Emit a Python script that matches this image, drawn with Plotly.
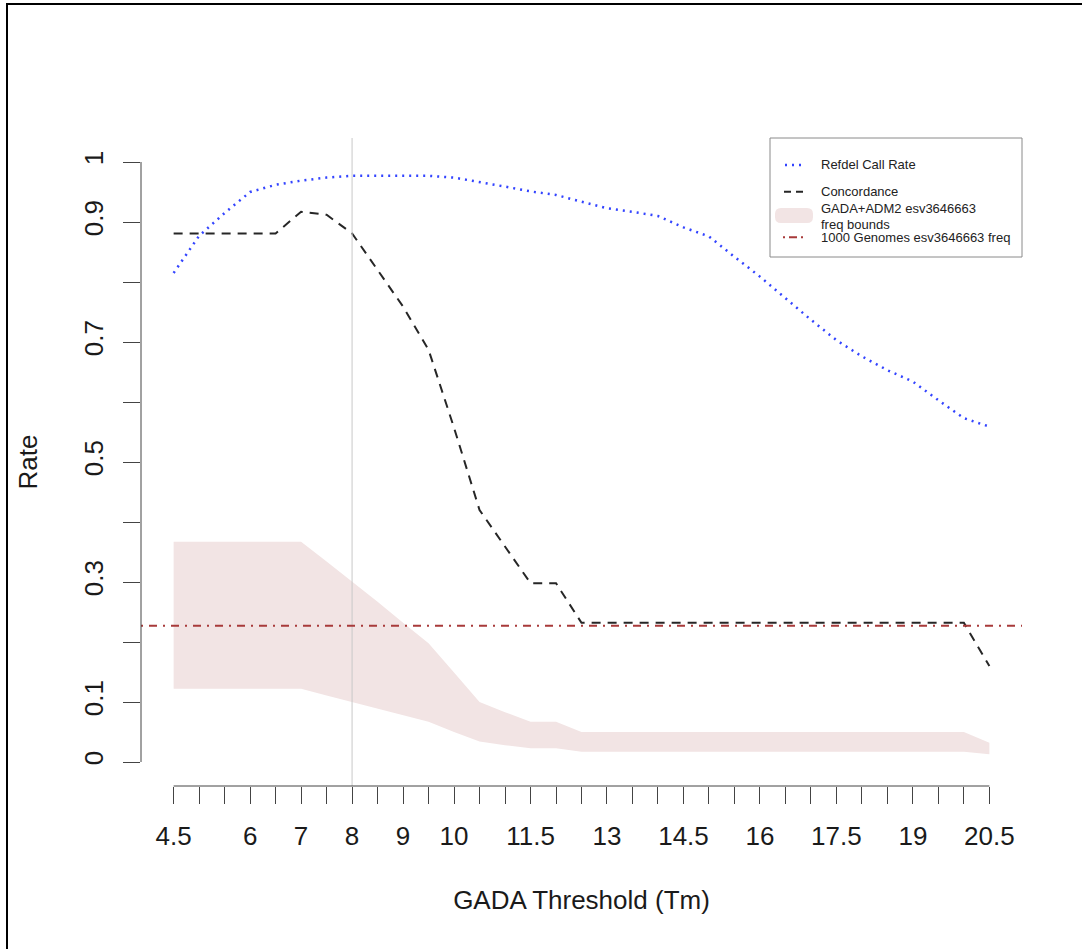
import plotly.graph_objects as go

# ---------------- data ----------------
thresholds = [4.5, 5.0, 5.5, 6.0, 6.5, 7.0, 7.5, 8.0, 8.5, 9.0, 9.5, 10.0, 10.5,
              11.0, 11.5, 12.0, 12.5, 13.0, 13.5, 14.0, 14.5, 15.0, 15.5, 16.0,
              16.5, 17.0, 17.5, 18.0, 18.5, 19.0, 19.5, 20.0, 20.5]

refdel_call_rate = [0.815, 0.877, 0.915, 0.950, 0.962, 0.969, 0.974, 0.977, 0.977,
                    0.977, 0.977, 0.974, 0.967, 0.959, 0.951, 0.945, 0.934, 0.923,
                    0.917, 0.910, 0.891, 0.876, 0.842, 0.809, 0.773, 0.737, 0.703,
                    0.676, 0.653, 0.634, 0.603, 0.573, 0.559]

concordance = [0.881, 0.881, 0.881, 0.881, 0.881, 0.917, 0.912, 0.881, 0.820,
               0.759, 0.687, 0.557, 0.420, 0.359, 0.298, 0.298, 0.232, 0.232,
               0.232, 0.232, 0.232, 0.232, 0.232, 0.232, 0.232, 0.232, 0.232,
               0.232, 0.232, 0.232, 0.232, 0.232, 0.160]

freq_upper = [0.367, 0.367, 0.367, 0.367, 0.367, 0.367, 0.334, 0.301, 0.267,
              0.232, 0.198, 0.149, 0.100, 0.083, 0.067, 0.067, 0.050, 0.050,
              0.050, 0.050, 0.050, 0.050, 0.050, 0.050, 0.050, 0.050, 0.050,
              0.050, 0.050, 0.050, 0.050, 0.050, 0.032]

freq_lower = [0.122, 0.122, 0.122, 0.122, 0.122, 0.122, 0.111, 0.100, 0.089,
              0.078, 0.067, 0.050, 0.034, 0.028, 0.023, 0.023, 0.017, 0.017,
              0.017, 0.017, 0.017, 0.017, 0.017, 0.017, 0.017, 0.017, 0.017,
              0.017, 0.017, 0.017, 0.017, 0.017, 0.013]

kg_freq = 0.227          # 1000 Genomes esv3646663 freq
chosen_threshold = 8.0

x_tick_vals = thresholds
x_tick_text = ["4.5", "", "", "6", "", "7", "", "8", "", "9", "", "10", "",
               "", "11.5", "", "", "13", "", "", "14.5", "", "", "16", "",
               "", "17.5", "", "", "19", "", "", "20.5"]
y_tick_vals = [0.0, 0.1, 0.2, 0.3, 0.4, 0.5, 0.6, 0.7, 0.8, 0.9, 1.0]
y_tick_text = ["0", "0.1", "", "0.3", "", "0.5", "", "0.7", "", "0.9", "1"]

legend_lines = ["Refdel Call Rate", "Concordance", "GADA+ADM2 esv3646663",
                "freq bounds", "1000 Genomes esv3646663 freq"]

# ---------------- styles ----------------
W, H = 1082, 949
ML, MR, MT, MB = 141, 60, 138, 163
PW, PH = W - ML - MR, H - MT - MB
FONT = "Liberation Sans, Arial, Helvetica, sans-serif"
BLUE = "#3344ff"
BLACK = "#262626"
RED = "#a83a3a"
PINK = "#f2e4e4"
AXC = "#444444"


def px(p):
    return (p - ML) / PW


def py(p):
    return (H - MB - p) / PH


fig = go.Figure()

fig.add_trace(go.Scatter(x=thresholds, y=freq_lower, mode="lines",
                         line=dict(width=0, color=PINK), showlegend=False,
                         hoverinfo="skip"))
fig.add_trace(go.Scatter(x=thresholds, y=freq_upper, mode="lines",
                         line=dict(width=0, color=PINK), fill="tonexty",
                         fillcolor=PINK, name="GADA+ADM2 esv3646663 freq bounds",
                         showlegend=False))
fig.add_trace(go.Scatter(x=thresholds, y=refdel_call_rate, mode="lines",
                         line=dict(color=BLUE, width=2.5, dash="2px,5px"),
                         name="Refdel Call Rate", showlegend=False))
fig.add_trace(go.Scatter(x=thresholds, y=concordance, mode="lines",
                         line=dict(color=BLACK, width=2, dash="9px,7px"),
                         name="Concordance", showlegend=False))

shapes = []
# vertical reference line at chosen threshold
shapes.append(dict(type="line", xref="x", yref="paper", x0=chosen_threshold,
                   x1=chosen_threshold, y0=0, y1=1,
                   line=dict(color="#c8c8c8", width=1)))
# 1000 Genomes frequency line
shapes.append(dict(type="line", xref="paper", yref="y", x0=0, x1=1,
                   y0=kg_freq, y1=kg_freq,
                   line=dict(color=RED, width=2, dash="2px,6px,8px,6px")))
# R-style axis lines spanning the tick range
shapes.append(dict(type="line", xref="x", yref="paper", x0=thresholds[0],
                   x1=thresholds[-1], y0=0, y1=0, line=dict(color=AXC, width=1)))
shapes.append(dict(type="line", xref="paper", yref="y", x0=0, x1=0,
                   y0=y_tick_vals[0], y1=y_tick_vals[-1],
                   line=dict(color=AXC, width=1)))

# legend box (R style)
LX0, LX1, LY0, LY1 = 770, 1022, 138, 257
shapes.append(dict(type="rect", xref="paper", yref="paper",
                   x0=px(LX0), x1=px(LX1), y0=py(LY1), y1=py(LY0),
                   line=dict(color="#8a8a8a", width=1), fillcolor="white"))
sx0, sx1 = 785, 805
row_y = [165, 191.7, 215, 237.3]
shapes.append(dict(type="line", xref="paper", yref="paper", x0=px(sx0), x1=px(sx1),
                   y0=py(row_y[0]), y1=py(row_y[0]),
                   line=dict(color=BLUE, width=2.5, dash="2px,5px")))
shapes.append(dict(type="line", xref="paper", yref="paper", x0=px(sx0 - 1), x1=px(sx1 + 1),
                   y0=py(row_y[1]), y1=py(row_y[1]),
                   line=dict(color=BLACK, width=2, dash="7px,5px")))
# rounded swatch
rx0, rx1, ry0, ry1, r = 775, 813, 208, 223, 6
path = (f"M {px(rx0 + r)},{py(ry0)} L {px(rx1 - r)},{py(ry0)} "
        f"Q {px(rx1)},{py(ry0)} {px(rx1)},{py(ry0 + r)} "
        f"L {px(rx1)},{py(ry1 - r)} Q {px(rx1)},{py(ry1)} {px(rx1 - r)},{py(ry1)} "
        f"L {px(rx0 + r)},{py(ry1)} Q {px(rx0)},{py(ry1)} {px(rx0)},{py(ry1 - r)} "
        f"L {px(rx0)},{py(ry0 + r)} Q {px(rx0)},{py(ry0)} {px(rx0 + r)},{py(ry0)} Z")
shapes.append(dict(type="path", xref="paper", yref="paper", path=path,
                   fillcolor=PINK, line=dict(width=0)))
shapes.append(dict(type="line", xref="paper", yref="paper", x0=px(sx0 - 2), x1=px(sx1 + 1),
                   y0=py(row_y[3]), y1=py(row_y[3]),
                   line=dict(color=RED, width=2, dash="2px,4px,8px,4px")))
# outer frame (top and left edges of the image)
shapes.append(dict(type="line", xref="paper", yref="paper", x0=px(6), x1=px(W),
                   y0=py(4), y1=py(4), line=dict(color="black", width=2)))
shapes.append(dict(type="line", xref="paper", yref="paper", x0=px(7), x1=px(7),
                   y0=py(4), y1=py(H), line=dict(color="black", width=2)))

annotations = []
text_y = [165, 191.7, 208.5, 224.5, 237.5]
for lab, ty in zip(legend_lines, text_y):
    annotations.append(dict(xref="paper", yref="paper", x=px(819), y=py(ty),
                            text=lab, showarrow=False, xanchor="left",
                            yanchor="middle", align="left",
                            font=dict(family=FONT, size=13, color="#222222")))

fig.update_layout(
    width=W, height=H,
    margin=dict(l=ML, r=MR, t=MT, b=MB, pad=0),
    paper_bgcolor="white", plot_bgcolor="white",
    shapes=shapes, annotations=annotations,
    showlegend=False,
    font=dict(family=FONT, color="#1a1a1a"),
    xaxis=dict(range=[3.86, 21.14], showgrid=False, zeroline=False, showline=False,
               ticks="outside", ticklen=17, tickwidth=1, tickcolor=AXC,
               tickvals=x_tick_vals, ticktext=x_tick_text, tickangle=0,
               tickfont=dict(family=FONT, size=26, color="#1a1a1a"),
               ticklabelstandoff=10,
               title=dict(text="GADA Threshold (Tm)", standoff=40,
                          font=dict(family=FONT, size=26, color="#1a1a1a")),
               automargin=False),
    yaxis=dict(range=[-0.04, 1.04], showgrid=False, zeroline=False, showline=False,
               ticks="outside", ticklen=17, tickwidth=1, tickcolor=AXC,
               tickvals=y_tick_vals, ticktext=y_tick_text, tickangle=-90,
               tickfont=dict(family=FONT, size=26, color="#1a1a1a"),
               ticklabelstandoff=10,
               title=dict(text="Rate", standoff=33,
                          font=dict(family=FONT, size=26, color="#1a1a1a")),
               automargin=False),
)

fig.write_html("out.html")
